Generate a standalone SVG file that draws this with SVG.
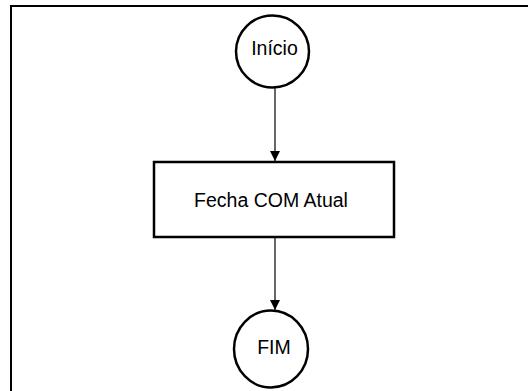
<svg xmlns="http://www.w3.org/2000/svg" width="528" height="391" viewBox="0 0 528 391">
<style>
.shape{fill:#fff;stroke:#000;stroke-width:2.5}
.lbl{font-family:"Liberation Sans",Arial,sans-serif;font-size:19.5px;fill:#000;text-anchor:middle}
.conn{stroke:#000;stroke-width:1.2;fill:none}
</style>
<defs>
<marker id="arr" viewBox="0 0 10 14" refX="10" refY="5" markerWidth="10" markerHeight="14" markerUnits="userSpaceOnUse" orient="auto">
<path d="M0,0 L10,5 L0,10 Z" fill="#000"/>
</marker>
</defs>
<rect width="528" height="391" fill="#fff"/>
<path d="M11,391 V6 H528" fill="none" stroke="#000" stroke-width="2"/>
<g id="connectors">
<line class="conn" x1="275" y1="88" x2="275" y2="161" marker-end="url(#arr)"/>
<line class="conn" x1="275" y1="237" x2="275" y2="310" marker-end="url(#arr)"/>
</g>
<g id="inicio">
<ellipse class="shape" cx="272.5" cy="51.5" rx="36.5" ry="36"/>
<text class="lbl" x="274.5" y="54.5">Início</text>
</g>
<g id="fecha">
<rect class="shape" x="154" y="162" width="240" height="75"/>
<text class="lbl" x="271" y="206.5">Fecha COM Atual</text>
</g>
<g id="fim">
<ellipse class="shape" cx="271" cy="349" rx="37" ry="38.5"/>
<text class="lbl" x="274" y="354">FIM</text>
</g>
</svg>
